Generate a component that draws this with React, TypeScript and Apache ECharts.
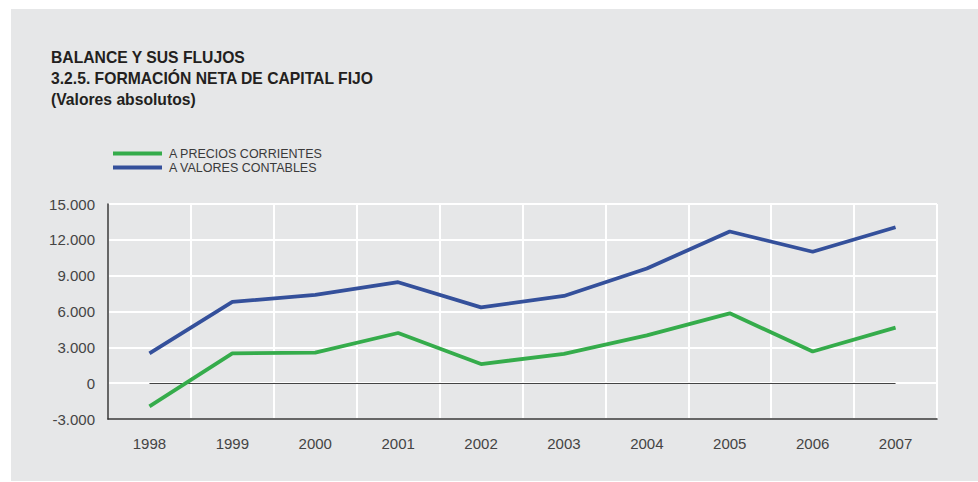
import React, { useEffect, useRef } from "react";
import * as echarts from "echarts";

const years = ["1998", "1999", "2000", "2001", "2002", "2003", "2004", "2005", "2006", "2007"];
const preciosCorrientes = [-1950, 2500, 2550, 4200, 1600, 2450, 4000, 5850, 2650, 4650];
const valoresContables = [2500, 6800, 7400, 8450, 6350, 7300, 9600, 12700, 11000, 13050];
const seriesNames = ["A PRECIOS CORRIENTES", "A VALORES CONTABLES"];
const titleLines = ["BALANCE Y SUS FLUJOS", "3.2.5. FORMACIÓN NETA DE CAPITAL FIJO", "(Valores absolutos)"];

const FONT = "'Liberation Sans', Arial, Helvetica, sans-serif";

function fmt(v: number): string {
  const s = Math.abs(v).toString().replace(/\B(?=(\d{3})+(?!\d))/g, ".");
  return (v < 0 ? "-" : "") + s;
}

export default function App() {
  const ref = useRef<HTMLDivElement>(null);
  useEffect(() => {
    if (!ref.current) return;
    const chart = echarts.init(ref.current, undefined, { renderer: "svg" });
    chart.setOption({
      animation: false,
      backgroundColor: "#ffffff",
      graphic: [
        {
          type: "rect",
          z: -10,
          silent: true,
          shape: { x: 11, y: 9, width: 967, height: 472 },
          style: { fill: "#e6e7e8" },
        },
      ],
      title: {
        text: titleLines.join("\n"),
        left: 51,
        top: 47,
        padding: 0,
        textStyle: {
          fontFamily: FONT,
          fontSize: 15.7,
          fontWeight: "bold",
          color: "#231f20",
          lineHeight: 21,
        },
      },
      legend: {
        orient: "vertical",
        left: 113,
        top: 147,
        padding: 0,
        itemGap: 1,
        itemWidth: 49,
        itemHeight: 4,
        icon: "rect",
        data: seriesNames,
        textStyle: {
          fontFamily: FONT,
          fontSize: 12.5,
          color: "#3a3a3a",
          lineHeight: 12,
          padding: [0, 0, 0, 2],
        },
      },
      grid: { left: 108, top: 204, width: 829, height: 215, containLabel: false },
      xAxis: {
        type: "category",
        data: years,
        boundaryGap: true,
        axisLine: { show: true, onZero: false, lineStyle: { color: "#333333", width: 1.5 } },
        axisTick: { show: false },
        axisLabel: { fontFamily: FONT, fontSize: 15, color: "#444444", margin: 17 },
        splitLine: { show: true, lineStyle: { color: "#ffffff", width: 2 } },
      },
      yAxis: {
        type: "value",
        min: -3000,
        max: 15000,
        interval: 3000,
        axisLine: { show: true, lineStyle: { color: "#333333", width: 1.5 } },
        axisTick: { show: false },
        axisLabel: {
          fontFamily: FONT,
          fontSize: 15,
          color: "#444444",
          margin: 13,
          formatter: (v: number) => fmt(v),
        },
        splitLine: { show: true, lineStyle: { color: "#ffffff", width: 2 } },
      },
      series: [
        {
          name: seriesNames[0],
          type: "line",
          data: preciosCorrientes,
          symbol: "none",
          color: "#35ac4b",
          lineStyle: { width: 3.8, color: "#35ac4b" },
          z: 3,
          markLine: {
            silent: true,
            symbol: ["none", "none"],
            label: { show: false },
            lineStyle: { color: "#444444", width: 1, type: "solid" },
            data: [[{ coord: [0, 0] }, { coord: [years.length - 1, 0] }]],
            z: 2,
          },
        },
        {
          name: seriesNames[1],
          type: "line",
          data: valoresContables,
          symbol: "none",
          color: "#34509b",
          lineStyle: { width: 3.8, color: "#34509b" },
          z: 3,
        },
      ],
    });
    return () => chart.dispose();
  }, []);
  return (
    <div
      ref={ref}
      style={{ position: "fixed", left: 0, top: 0, width: 978, height: 482 }}
    />
  );
}
